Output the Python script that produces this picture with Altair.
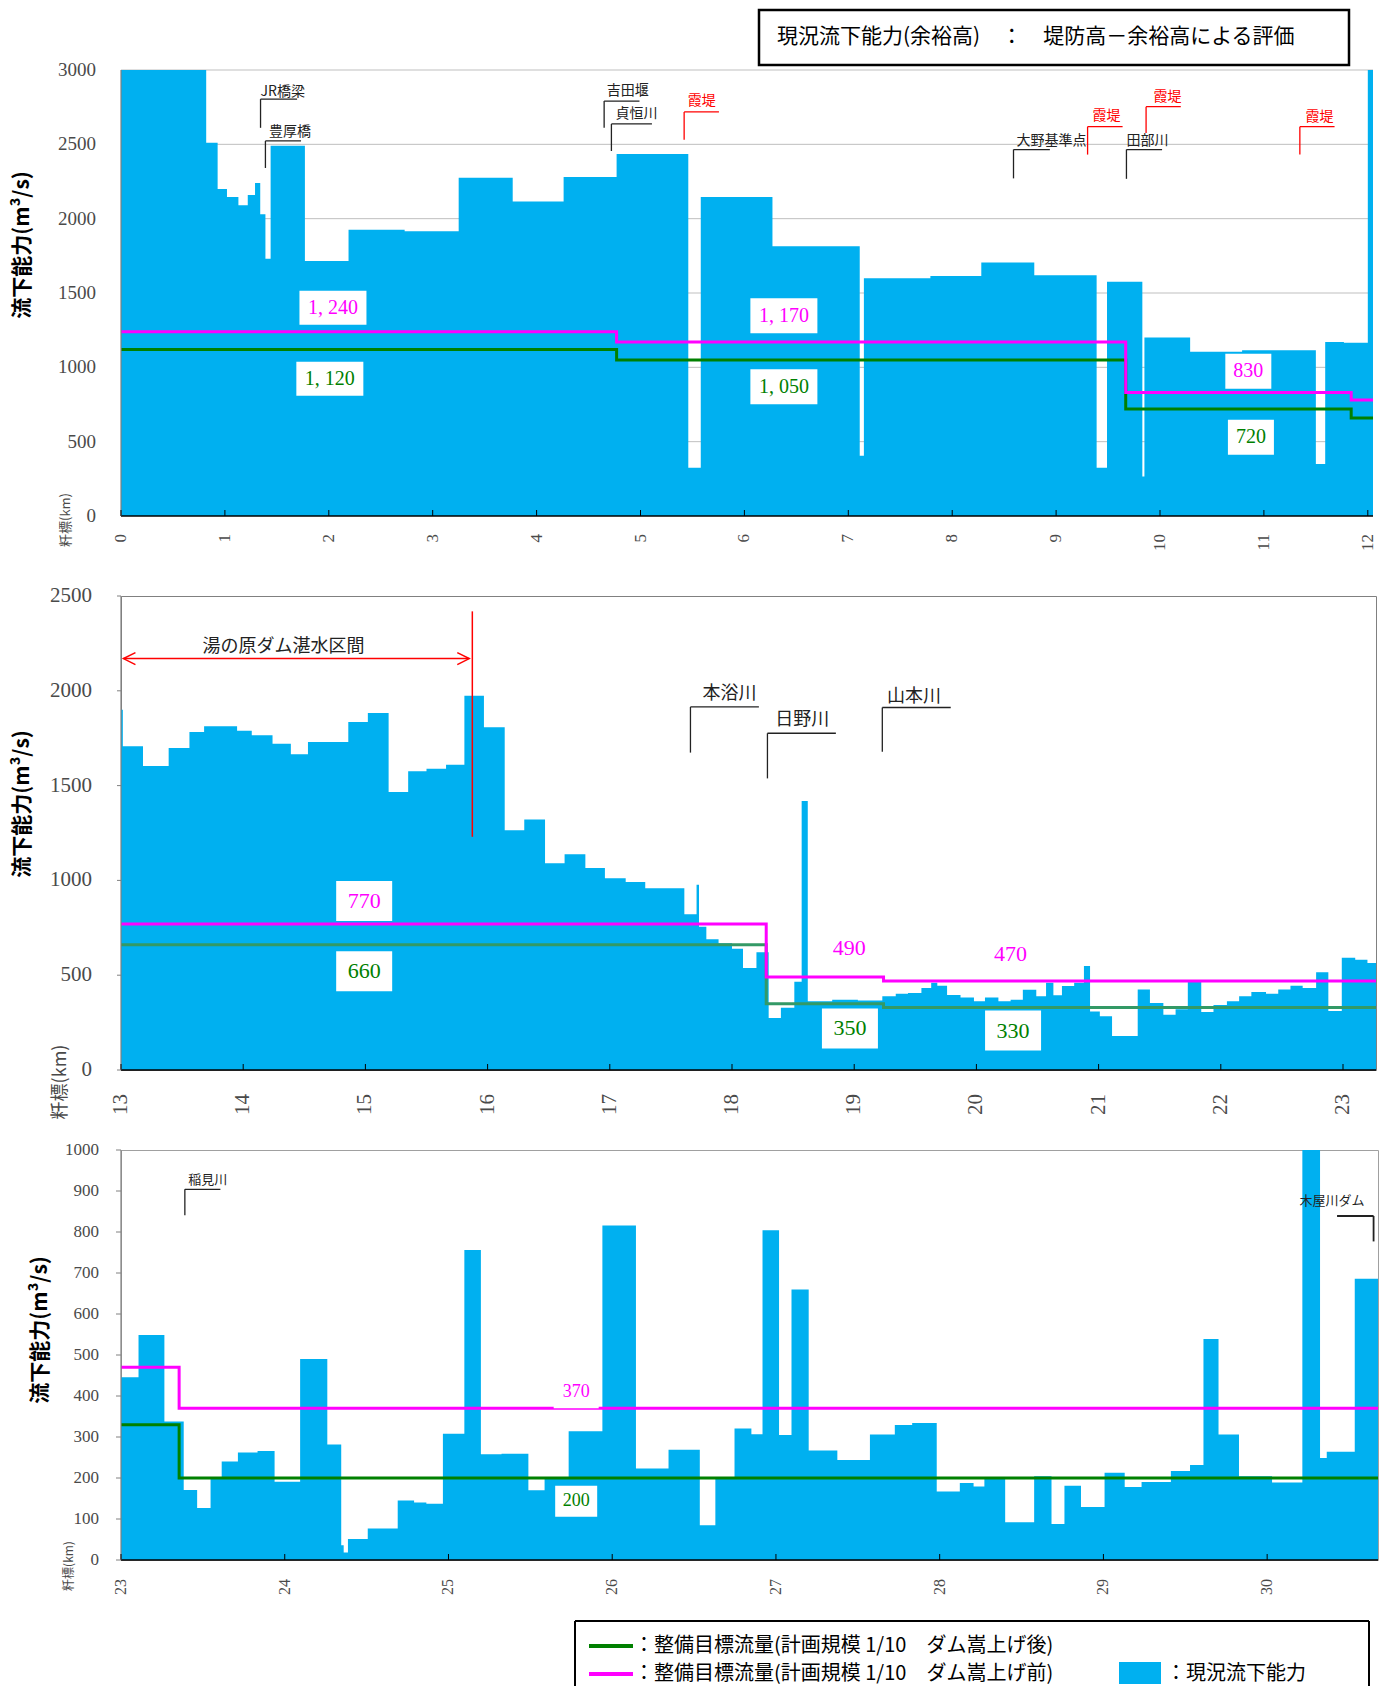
import altair as alt
import pandas as pd

# ---------------------------------------------------------------
# Current discharge capacity (m3/s) along the river, stepwise.
# KM_n are the section boundaries (km), CAP_n the capacity of each section.
# ---------------------------------------------------------------
KM_1 = [0, 0.82, 0.93, 1.02, 1.13, 1.22, 1.29, 1.34, 1.39, 1.44,
        1.77, 2.19, 2.73, 3.25, 3.77, 4.26, 4.77, 5.46, 5.58, 6.27,
        7.11, 7.15, 7.79, 8.28, 8.79, 9.39, 9.49, 9.83, 9.85, 10.29,
        10.79, 11.50, 11.59, 11.77, 12.00, 12.05]
CAP_1 = [3000, 2510, 2200, 2145, 2090, 2160, 2240, 2030, 1730, 2490,
         1715, 1925, 1915, 2275, 2115, 2280, 2435, 325, 2145, 1815,
         405, 1600, 1615, 1705, 1620, 325, 1575, 265, 1200, 1105,
         1115, 350, 1170, 1165, 3000]

KM_2 = [13, 13.015, 13.18, 13.39, 13.56, 13.68, 13.95, 14.07, 14.24, 14.39,
        14.53, 14.86, 15.02, 15.19, 15.35, 15.50, 15.66, 15.81, 15.97, 16.14,
        16.30, 16.47, 16.63, 16.80, 16.96, 17.13, 17.29, 17.61, 17.71, 17.73,
        17.79, 17.89, 18.00, 18.09, 18.20, 18.30, 18.40, 18.51, 18.57, 18.62,
        18.82, 19.03, 19.23, 19.34, 19.44, 19.55, 19.63, 19.68, 19.76, 19.87,
        19.98, 20.07, 20.18, 20.28, 20.38, 20.49, 20.57, 20.63, 20.70, 20.80,
        20.88, 20.93, 21.01, 21.11, 21.32, 21.42, 21.53, 21.63, 21.73, 21.84,
        21.94, 22.05, 22.15, 22.25, 22.37, 22.47, 22.57, 22.67, 22.78, 22.88,
        22.99, 23.10, 23.20, 23.27]
CAP_2 = [1900, 1708, 1604, 1698, 1783, 1813, 1789, 1766, 1721, 1666,
         1730, 1836, 1883, 1466, 1576, 1589, 1610, 1974, 1808, 1264,
         1321, 1091, 1138, 1066, 1011, 991, 959, 821, 977, 755,
         689, 668, 640, 538, 621, 274, 328, 466, 1419, 362,
         370, 366, 389, 402, 406, 432, 460, 445, 396, 383,
         362, 383, 362, 370, 423, 389, 460, 394, 443, 460,
         549, 309, 283, 179, 425, 353, 291, 321, 468, 306,
         343, 362, 389, 411, 402, 425, 445, 432, 515, 311,
         592, 581, 564]

KM_3 = [23, 23.107, 23.265, 23.383, 23.465, 23.547, 23.615, 23.714, 23.834, 23.938,
        24.094, 24.26, 24.345, 24.36, 24.386, 24.507, 24.69, 24.79, 24.865, 24.966,
        25.097, 25.198, 25.324, 25.488, 25.587, 25.734, 25.94, 26.145, 26.344, 26.535,
        26.63, 26.747, 26.85, 26.918, 27.019, 27.095, 27.2, 27.375, 27.574, 27.726,
        27.832, 27.982, 28.123, 28.207, 28.273, 28.4, 28.577, 28.683, 28.762, 28.863,
        29.007, 29.13, 29.233, 29.412, 29.529, 29.611, 29.703, 29.828, 30.03, 30.215,
        30.323, 30.364, 30.535, 30.677]
CAP_3 = [446, 549, 338, 171, 127, 201, 240, 262, 266, 191,
         490, 282, 36, 18, 51, 77, 145, 140, 137, 308,
         756, 258, 259, 170, 201, 314, 816, 223, 269, 85,
         201, 321, 307, 804, 305, 660, 267, 244, 306, 329,
         334, 167, 188, 179, 201, 92, 204, 88, 181, 129,
         213, 178, 190, 217, 232, 539, 306, 204, 189, 1000,
         249, 264, 686]

# Target flows (planning scale 1/10): after / before the dam raising
TGT_KM_1 = [0, 4.77, 9.67, 11.84, 12.05]
AFTER_1 = [1120, 1050, 720, 660]
BEFORE_1 = [1240, 1170, 830, 780]
TGT_KM_2 = [13, 18.28, 19.24, 23.27]
AFTER_2 = [660, 350, 330]
BEFORE_2 = [770, 490, 470]
TGT_KM_3 = [23, 23.355, 30.677]
AFTER_3 = [330, 200]
BEFORE_3 = [470, 370]

# Axis tick values
XTICKS_1 = list(range(0, 13))
XTICKS_2 = list(range(13, 24))
XTICKS_3 = list(range(23, 31))
YTICKS_1 = list(range(0, 3001, 500))
YTICKS_2 = list(range(0, 2501, 500))
YTICKS_3 = list(range(0, 1001, 100))

# Value labels: (km, m3/s, text, series)
LABELS_1 = [(2.04, 1400, "1, 240", "before"), (2.01, 923, "1, 120", "after"),
            (6.38, 1347, "1, 170", "before"), (6.38, 870, "1, 050", "after"),
            (10.85, 974, "830", "before"), (10.875, 530, "720", "after")]
LABELS_2 = [(14.99, 892, "770", "before"), (14.99, 521, "660", "after"),
            (18.96, 642, "490", "before"), (20.28, 613, "470", "before"),
            (18.965, 219, "350", "after"), (20.30, 208, "330", "after")]
LABELS_3 = [(25.78, 409, "370", "before"), (25.78, 143, "200", "after")]

# Landmarks with leader lines: (name, kind, km, y_from, y_to, km_end, text_km, text_y)
MARKS_1 = [("JR橋梁", "site", 1.343, 2611, 2804, 1.695, 1.343, 2852),
           ("豊厚橋", "site", 1.39, 2341, 2523, 1.733, 1.425, 2583),
           ("吉田堰", "site", 4.65, 2611, 2791, 4.99, 4.675, 2858),
           ("貞恒川", "site", 4.72, 2455, 2637, 5.11, 4.76, 2707),
           ("霞堤", "levee", 5.42, 2530, 2718, 5.755, 5.455, 2792),
           ("大野基準点", "site", 8.59, 2271, 2465, 8.94, 8.62, 2522),
           ("霞堤", "levee", 9.303, 2431, 2619, 9.64, 9.35, 2691),
           ("田部川", "site", 9.677, 2268, 2465, 10.02, 9.677, 2522),
           ("霞堤", "levee", 9.866, 2577, 2753, 10.2, 9.937, 2820),
           ("霞堤", "levee", 11.346, 2431, 2619, 11.68, 11.4, 2684)]
MARKS_2 = [("本浴川", "site", 17.66, 1674, 1915, 18.22, 17.98, 1985),
           ("日野川", "site", 18.29, 1538, 1776, 18.85, 18.575, 1847),
           ("山本川", "site", 19.23, 1678, 1912, 19.79, 19.49, 1966)]
MARKS_3 = [("稲見川", "site", 23.39, 841, 904, 23.607, 23.41, 927)]

CYAN = "#00B0F0"
MAGENTA = "#FF00FF"
GREEN = "#008000"
GREEN_MID = "#339966"
RED = "#FF0000"
INK = "#4a4a4a"
SERIF = "Liberation Serif"
SANS = "Noto Sans CJK JP"
ONE = pd.DataFrame({"k": [0]})
KIND_COLOR = {"site": "#222222", "levee": RED}


def step_frame(edges, values):
    return pd.DataFrame({"km": list(edges), "q": list(values) + [values[-1]]})


def pix_rule(x, y, x2=None, y2=None, color="black", width=1.0):
    enc = dict(x=alt.value(x), y=alt.value(y))
    if x2 is not None:
        enc["x2"] = alt.value(x2)
    if y2 is not None:
        enc["y2"] = alt.value(y2)
    return alt.Chart(ONE).mark_rule(color=color, strokeWidth=width).encode(**enc)


def pix_text(text, x, y, size, color="black", font=SANS, angle=0, weight="normal",
             align="left"):
    return alt.Chart(ONE).mark_text(
        text=text, font=font, fontSize=size, color=color, angle=angle,
        fontWeight=weight, align=align, baseline="middle"
    ).encode(x=alt.value(x), y=alt.value(y))


def panel(edges, caps, tkm, after, before, cfg):
    w, h = cfg["w"], cfg["h"]
    xs = alt.Scale(domain=[edges[0], edges[-1]], nice=False, zero=False)
    ys = alt.Scale(domain=[0, cfg["ymax"]], nice=False)

    def X(field):
        return alt.X(field, scale=xs, axis=None)

    def Y(field):
        return alt.Y(field, scale=ys, axis=None)

    layers = []
    yt = pd.DataFrame({"q": cfg["yticks"], "t": [str(v) for v in cfg["yticks"]]})
    xt = pd.DataFrame({"km": cfg["xticks"], "t": [str(v) for v in cfg["xticks"]]})

    # horizontal grid (behind the capacity area)
    if cfg["grid"]:
        layers.append(alt.Chart(yt[yt.q > 0]).mark_rule(color="#BFBFBF", strokeWidth=1).encode(
            y=Y("q:Q"), x=alt.value(0), x2=alt.value(w)))

    # current capacity
    layers.append(
        alt.Chart(step_frame(edges, caps)).mark_area(
            interpolate="step-after", color=CYAN, opacity=1, clip=True
        ).encode(x=X("km:Q"), y=Y("q:Q"))
    )
    # target flow step lines
    layers.append(alt.Chart(step_frame(tkm, after)).mark_line(
        interpolate="step-after", color=cfg["green"], strokeWidth=3, clip=True
    ).encode(x=X("km:Q"), y=Y("q:Q")))
    layers.append(alt.Chart(step_frame(tkm, before)).mark_line(
        interpolate="step-after", color=MAGENTA, strokeWidth=3, clip=True
    ).encode(x=X("km:Q"), y=Y("q:Q")))

    # axis lines, inward x ticks, outward y ticks, tick labels
    layers.append(pix_rule(0, h, x2=w, color="black", width=1.5))
    layers.append(pix_rule(0, 0, y2=h, color="#808080", width=1.2))
    layers.append(alt.Chart(xt).mark_rule(color="black", strokeWidth=1).encode(
        x=X("km:Q"), y=alt.value(h), y2=alt.value(h - 6)))
    if cfg["ytick"]:
        layers.append(alt.Chart(yt).mark_rule(color="#808080", strokeWidth=1).encode(
            y=Y("q:Q"), x=alt.value(-cfg["ytick"]), x2=alt.value(0)))
    layers.append(alt.Chart(xt).mark_text(
        font=SERIF, fontSize=cfg["xfs"], color=INK, angle=270,
        align="right", baseline="middle"
    ).encode(x=X("km:Q"), y=alt.value(h + cfg["xpad"]), text="t:N"))
    layers.append(alt.Chart(yt).mark_text(
        font=SERIF, fontSize=cfg["yfs"], color=INK, align="right", baseline="middle"
    ).encode(y=Y("q:Q"), x=alt.value(-cfg["ypad"]), text="t:N"))

    # value labels
    for (km, q, text, series), box in zip(cfg["labels"], cfg["boxes"]):
        row = pd.DataFrame({"km": [km], "q": [q]})
        color = MAGENTA if series == "before" else GREEN
        if box:
            bw, bh = box
            r = bh / bw
            layers.append(alt.Chart(row).mark_point(
                shape=f"M-1,{-r:.4f}H1V{r:.4f}H-1Z", size=bw * bw, filled=True,
                color="white", opacity=1, strokeWidth=0
            ).encode(x=X("km:Q"), y=Y("q:Q")))
        layers.append(alt.Chart(row).mark_text(
            text=text, font=SERIF, fontSize=cfg["lfs"], color=color,
            align="center", baseline="middle"
        ).encode(x=X("km:Q"), y=Y("q:Q")))

    # landmarks
    if cfg["marks"]:
        segs, txts = [], []
        for name, kind, xv, y0, y1, xe, tx, ty in cfg["marks"]:
            c = KIND_COLOR[kind]
            segs.append({"km": xv, "q": y0, "km2": xv, "q2": y1, "c": c})
            segs.append({"km": xv, "q": y1, "km2": xe, "q2": y1, "c": c})
            txts.append({"km": tx, "q": ty, "t": name, "c": c})
        layers.append(alt.Chart(pd.DataFrame(segs)).mark_rule(strokeWidth=1.3).encode(
            x=X("km:Q"), x2="km2:Q", y=Y("q:Q"), y2="q2:Q",
            color=alt.Color("c:N", scale=None)))
        layers.append(alt.Chart(pd.DataFrame(txts)).mark_text(
            font=SANS, fontSize=cfg["mfs"], align=cfg["malign"], baseline="middle"
        ).encode(x=X("km:Q"), y=Y("q:Q"), text="t:N", color=alt.Color("c:N", scale=None)))

    # axis titles
    tx, ty = cfg["ytitle"]
    layers.append(pix_text("流下能力(m³/s)", tx, ty, 21, angle=270, weight="bold",
                           align="center"))
    kx, ky, kfs = cfg["kmtitle"]
    layers.append(pix_text("粁標(km)", kx, ky, kfs, color=INK, angle=270, align="center"))

    return layers, X, Y


# ---------------- panel 1 : 0 - 12 km ----------------
cfg1 = dict(w=1252, h=446, ymax=3000, yticks=YTICKS_1, grid=True, xticks=XTICKS_1,
            xfs=17, yfs=19, xpad=18, ypad=25, ytick=0, green=GREEN, lfs=20, mfs=14,
            malign="left", labels=LABELS_1,
            boxes=[(67, 34), (67, 34), (67, 35), (67, 35), (46, 35), (46, 35)],
            marks=MARKS_1, ytitle=(-98, 175), kmtitle=(-55, 450, 13))
l1, X1, Y1 = panel(KM_1, CAP_1, TGT_KM_1, AFTER_1, BEFORE_1, cfg1)
# heading box
l1.append(alt.Chart(ONE).mark_rect(fill="white", stroke="black", strokeWidth=2.5).encode(
    x=alt.value(638), x2=alt.value(1228), y=alt.value(-60), y2=alt.value(-5)))
l1.append(pix_text("現況流下能力(余裕高)　：　堤防高－余裕高による評価", 656, -33, 21))
p1 = alt.layer(*l1).properties(width=cfg1["w"], height=cfg1["h"],
                               view=alt.ViewBackground(stroke=None))

# ---------------- panel 2 : 13 - 23 km ----------------
cfg2 = dict(w=1255, h=474, ymax=2500, yticks=YTICKS_2, grid=False, xticks=XTICKS_2,
            xfs=21, yfs=21, xpad=24, ypad=29, ytick=4, green=GREEN_MID, lfs=22, mfs=18,
            malign="center", labels=LABELS_2,
            boxes=[(56, 40), (56, 40), None, None, (56, 40), (56, 40)],
            marks=MARKS_2, ytitle=(-98, 208), kmtitle=(-60, 486, 18))
l2, X2, Y2 = panel(KM_2, CAP_2, TGT_KM_2, AFTER_2, BEFORE_2, cfg2)
# reservoir reach of the Yunohara dam
reach = pd.DataFrame({"km": [13.02], "km2": [15.85], "q": [2170]})
l2.append(alt.Chart(reach).mark_rule(color=RED, strokeWidth=1.5).encode(
    x=X2("km:Q"), x2="km2:Q", y=Y2("q:Q")))
l2.append(alt.Chart(pd.DataFrame({"km": [13.02], "q": [2170]})).mark_point(
    shape="M2,-1L0,0L2,1", size=144, filled=False, color=RED, strokeWidth=1.5, opacity=1
).encode(x=X2("km:Q"), y=Y2("q:Q")))
l2.append(alt.Chart(pd.DataFrame({"km": [15.85], "q": [2170]})).mark_point(
    shape="M-2,-1L0,0L-2,1", size=144, filled=False, color=RED, strokeWidth=1.5, opacity=1
).encode(x=X2("km:Q"), y=Y2("q:Q")))
l2.append(alt.Chart(pd.DataFrame({"km": [15.875], "q": [1230], "q2": [2419]})).mark_rule(
    color=RED, strokeWidth=1.5).encode(x=X2("km:Q"), y=Y2("q:Q"), y2="q2:Q"))
l2.append(alt.Chart(pd.DataFrame({"km": [14.33], "q": [2232]})).mark_text(
    text="湯の原ダム湛水区間", font=SANS, fontSize=18, color="#222222",
    align="center", baseline="middle").encode(x=X2("km:Q"), y=Y2("q:Q")))
p2 = alt.layer(*l2).properties(width=cfg2["w"], height=cfg2["h"],
                               view=alt.ViewBackground(stroke="#808080"))

# ---------------- panel 3 : 23 - 30.7 km ----------------
cfg3 = dict(w=1257, h=410, ymax=1000, yticks=YTICKS_3, grid=False, xticks=XTICKS_3,
            xfs=16, yfs=17, xpad=19, ypad=22, ytick=5, green=GREEN, lfs=18, mfs=13,
            malign="left", labels=LABELS_3,
            boxes=[(45, 32), (42, 31)],
            marks=MARKS_3, ytitle=(-80, 180), kmtitle=(-52, 416, 12))
l3, X3, Y3 = panel(KM_3, CAP_3, TGT_KM_3, AFTER_3, BEFORE_3, cfg3)
# Kiyagawa dam marker
dam = pd.DataFrame({"km": [30.427, 30.65], "q": [839, 839], "km2": [30.65, 30.65],
                    "q2": [839, 777]})
l3.append(alt.Chart(dam).mark_rule(color="#222222", strokeWidth=1.8).encode(
    x=X3("km:Q"), x2="km2:Q", y=Y3("q:Q"), y2="q2:Q"))
l3.append(alt.Chart(pd.DataFrame({"km": [30.197], "q": [875]})).mark_text(
    text="木屋川ダム", font=SANS, fontSize=13, color="#222222",
    align="left", baseline="middle").encode(x=X3("km:Q"), y=Y3("q:Q")))

# legend box (open at the page bottom)
l3 += [
    pix_rule(454, 471, x2=1248, width=2),
    pix_rule(454, 471, y2=536, width=2),
    pix_rule(1248, 471, y2=536, width=2),
    pix_rule(468, 496, x2=512, color=GREEN, width=4),
    pix_rule(468, 524, x2=512, color=MAGENTA, width=4),
    pix_text("：整備目標流量(計画規模 1/10　ダム嵩上げ後)", 513, 496, 20),
    pix_text("：整備目標流量(計画規模 1/10　ダム嵩上げ前)", 513, 524, 20),
    alt.Chart(ONE).mark_rect(color=CYAN).encode(
        x=alt.value(998), x2=alt.value(1040), y=alt.value(512), y2=alt.value(534)),
    pix_text("：現況流下能力", 1045, 524, 20),
]
p3 = alt.layer(*l3).properties(width=cfg3["w"], height=cfg3["h"],
                               view=alt.ViewBackground(stroke="#A0A0A0"))

chart = alt.vconcat(p1, p2, p3, spacing=80, bounds="flush").properties(
    padding={"left": 11, "top": 8, "right": 4, "bottom": 0},
    background="white",
).configure_view(stroke=None)

chart.save("out.html", embed_options={"renderer": "svg", "actions": False})
